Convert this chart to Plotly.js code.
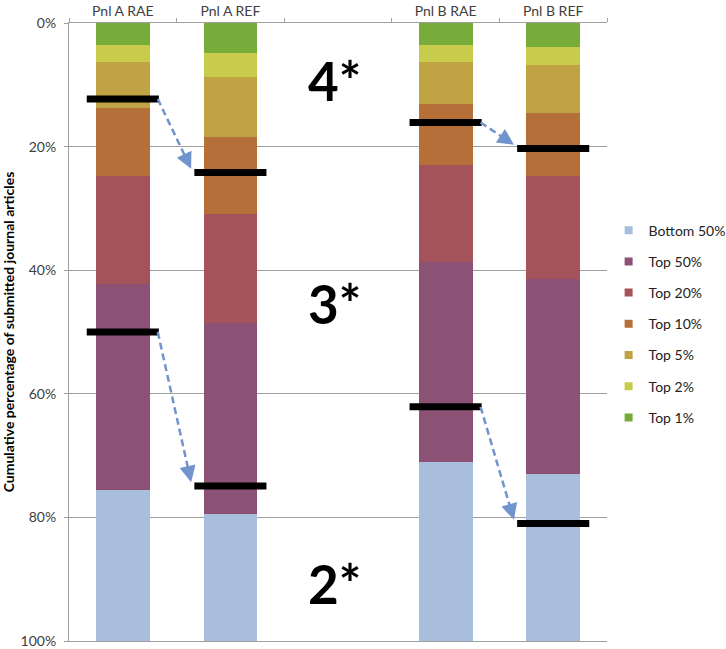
<!DOCTYPE html>
<html><head><meta charset="utf-8">
<script src="https://cdn.plot.ly/plotly-3.0.1.min.js"></script>
<style>html,body{margin:0;padding:0;background:#fff}</style>
</head><body><div id="chart" style="width:726px;height:649px"></div>
<script>
// ---- data ----
const categories = ['Pnl A RAE', 'Pnl A REF', ' ', 'Pnl B RAE', 'Pnl B REF'];
const seriesNames = ['Top 1%', 'Top 2%', 'Top 5%', 'Top 10%', 'Top 20%', 'Top 50%', 'Bottom 50%'];
const top1     = [3.5, 4.8, null, 3.6, 3.9];
const top2     = [2.8, 3.9, null, 2.7, 2.9];
const top5     = [7.5, 9.7, null, 6.8, 7.7];
const top10    = [10.9, 12.5, null, 9.9, 10.3];
const top20    = [17.5, 17.6, null, 15.6, 16.7];
const top50    = [33.3, 31.0, null, 32.5, 31.5];
const bottom50 = [24.5, 20.5, null, 28.9, 27.0];
const threshold4star = [12.3, 24.2, null, 16.1, 20.3];
const threshold3star = [50.0, 74.9, null, 62.1, 81.0];
const arrowPairs = [[0, 1], [3, 4]];
const gradeLabels = ['4*', '3*', '2*'];
const yTickVals = [0, 20, 40, 60, 80, 100];
const yTickText = yTickVals.map(v => v + '%');

// ---- styles ----
const colors = ['#77AC3B', '#C8CC4C', '#C0A343', '#B56F38', '#A5535A', '#8C5275', '#A9BEDD'];
const seriesValues = [top1, top2, top5, top10, top20, top50, bottom50];
const gridColor = '#a0a0a0';
const arrowColor = '#7094CB';
const halfBar = 0.335;
const pxPerCat = 107.5, pxPerPct = 6.19, headSeg = 13;

const traces = [];
seriesValues.forEach((vals, k) => {
  traces.push({
    type: 'bar', x: categories, y: vals, name: seriesNames[k],
    marker: {color: colors[k], line: {width: 0}},
    showlegend: false, hoverinfo: 'skip'
  });
});
// legend entries (small squares), Bottom 50% first
for (let k = seriesNames.length - 1; k >= 0; k--) {
  traces.push({
    type: 'scatter', mode: 'markers', x: [null], y: [null], name: seriesNames[k],
    legendgroup: 'g' + k,
    marker: {symbol: 'square', size: 8, color: colors[k]}
  });
}

const shapes = [];
const annotations = [];
[threshold4star, threshold3star].forEach(thr => {
  thr.forEach((v, i) => {
    if (v === null) return;
    shapes.push({type: 'line', xref: 'x', yref: 'y', x0: i - halfBar, x1: i + halfBar, y0: v, y1: v,
      line: {color: '#000', width: 7}});
  });
  arrowPairs.forEach(([a, b]) => {
    const sx = a + halfBar - 0.01, sy = thr[a];
    const tx = b - halfBar - 0.03, ty = thr[b] - 0.6;
    const lenPx = Math.hypot((tx - sx) * pxPerCat, (ty - sy) * pxPerPct);
    const f = 1 - headSeg / lenPx;
    const mx = sx + (tx - sx) * f, my = sy + (ty - sy) * f;
    shapes.push({type: 'line', xref: 'x', yref: 'y', x0: sx, y0: sy, x1: mx, y1: my,
      line: {color: arrowColor, width: 2.5, dash: '7px,4px'}});
    annotations.push({xref: 'x', yref: 'y', axref: 'x', ayref: 'y', x: tx, y: ty, ax: mx, ay: my,
      text: '', showarrow: true, arrowhead: 2, arrowsize: 1.3, arrowwidth: 2.5, arrowcolor: arrowColor});
  });
});
const gradeY = [9.3, 45.4, 90.7];
gradeLabels.forEach((t, k) => {
  annotations.push({xref: 'x', yref: 'y', x: 2, y: gradeY[k], xshift: -4, text: t, showarrow: false,
    font: {family: 'Lato, sans-serif', size: 53, color: '#000', weight: 'bold'}});
});

const layout = {
  width: 726, height: 649,
  margin: {l: 69, r: 119, t: 23, b: 8, autoexpand: false},
  paper_bgcolor: '#fff', plot_bgcolor: '#fff',
  barmode: 'stack', bargap: 0.5,
  font: {family: 'Lato, sans-serif', size: 14, color: '#404040'},
  xaxis: {type: 'category', categoryorder: 'array', categoryarray: categories, range: [-0.5, 4.5],
    side: 'top', showline: true, mirror: true, linecolor: gridColor, linewidth: 1, ticks: 'outside', tickson: 'boundaries',
    ticklen: 4, tickcolor: gridColor, showgrid: false, zeroline: false, automargin: false,
    tickfont: {size: 14, color: '#404040'}},
  yaxis: {range: [100, 0], tickmode: 'array', tickvals: yTickVals, ticktext: yTickText,
    showgrid: true, gridcolor: gridColor, gridwidth: 1, showline: true, linecolor: gridColor, linewidth: 1,
    ticks: 'outside', ticklen: 4, tickcolor: gridColor, zeroline: false, automargin: false,
    ticklabeloverflow: 'allow', ticklabelstandoff: 5,
    tickfont: {size: 14, color: '#404040'},
    title: {text: 'Cumulative percentage of submitted journal articles', standoff: 4,
      font: {size: 14, color: '#000', weight: 'bold'}}},
  legend: {x: 1.003, xanchor: 'left', y: 0.69, yanchor: 'top', traceorder: 'grouped', tracegroupgap: 10,
    font: {size: 14, color: '#222'}, bgcolor: 'rgba(0,0,0,0)'},
  shapes: shapes, annotations: annotations
};

Plotly.newPlot('chart', traces, layout, {displayModeBar: false, staticPlot: true});
</script></body></html>
